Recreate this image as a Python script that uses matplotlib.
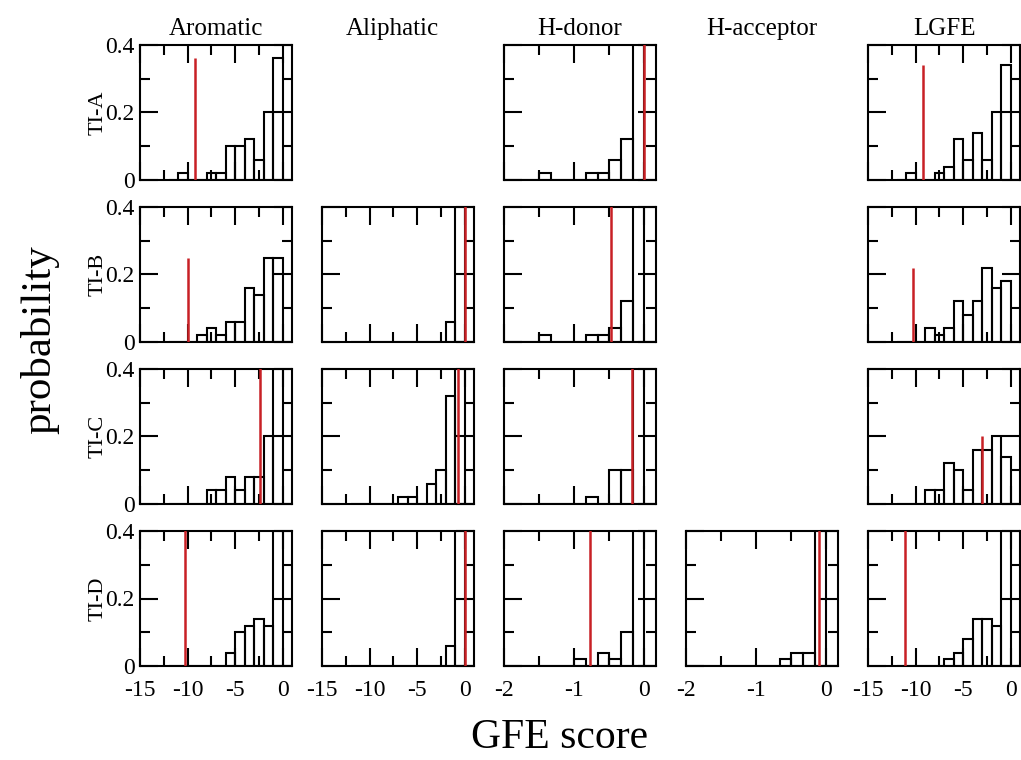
import numpy as np
import matplotlib
matplotlib.use("Agg")
import matplotlib.pyplot as plt
from matplotlib.ticker import FixedLocator

plt.rcParams['font.family'] = ['Liberation Serif', 'DejaVu Serif']
plt.rcParams['axes.unicode_minus'] = False

# ---------------- data ----------------
columns = ["Aromatic", "Aliphatic", "H-donor", "H-acceptor", "LGFE"]
rows = ["TI-A", "TI-B", "TI-C", "TI-D"]

# bin edges (13 bins)
score_edges = [-12, -11, -10, -9, -8, -7, -6, -5, -4, -3, -2, -1, 0, 1]
hbond_edges = [-2.0, -1.8333, -1.6667, -1.5, -1.3333, -1.1667, -1.0,
               -0.8333, -0.6667, -0.5, -0.3333, -0.1667, 0.0, 0.1667]

# probabilities per bin
arom_A = [0, 0.02, 0, 0, 0.02, 0.02, 0.10, 0.10, 0.12, 0.06, 0.20, 0.36, 0]
arom_B = [0, 0, 0, 0.02, 0.04, 0.02, 0.06, 0.06, 0.16, 0.14, 0.25, 0.25, 0]
arom_C = [0, 0, 0, 0, 0.04, 0.04, 0.08, 0.04, 0.08, 0.08, 0.20, 0.44, 0]
arom_D = [0, 0, 0, 0, 0, 0, 0.04, 0.10, 0.12, 0.14, 0.12, 0.48, 0]

aliph_B = [0, 0, 0, 0, 0, 0, 0, 0, 0, 0, 0.06, 0.94, 0]
aliph_C = [0, 0, 0, 0, 0, 0.02, 0.02, 0, 0.06, 0.10, 0.32, 0.48, 0]
aliph_D = [0, 0, 0, 0, 0, 0, 0, 0, 0, 0, 0.06, 0.94, 0]

hdon_A = [0, 0, 0, 0.02, 0, 0, 0, 0.02, 0.02, 0.06, 0.12, 0.76, 0]
hdon_B = [0, 0, 0, 0.02, 0, 0, 0, 0.02, 0.02, 0.04, 0.12, 0.78, 0]
hdon_C = [0, 0, 0, 0, 0, 0, 0, 0.02, 0, 0.10, 0.10, 0.78, 0]
hdon_D = [0, 0, 0, 0, 0, 0, 0.02, 0, 0.04, 0.02, 0.10, 0.82, 0]

hacc_D = [0, 0, 0, 0, 0, 0, 0, 0, 0.02, 0.04, 0.04, 0.90, 0]

lgfe_A = [0, 0.02, 0, 0, 0.02, 0.04, 0.12, 0.06, 0.14, 0.06, 0.20, 0.34, 0]
lgfe_B = [0, 0, 0, 0.04, 0.02, 0.04, 0.12, 0.08, 0.12, 0.22, 0.16, 0.18, 0]
lgfe_C = [0, 0, 0, 0.04, 0.04, 0.12, 0.10, 0.04, 0.16, 0.16, 0.20, 0.14, 0]
lgfe_D = [0, 0, 0, 0, 0, 0.02, 0.04, 0.08, 0.14, 0.14, 0.12, 0.46, 0]

# reference (red line) scores
arom_ref = [-9.2, -10.0, -2.4, -10.3]
aliph_ref = [None, 0.05, -0.7, 0.05]
hdon_ref = [0.0, -0.48, -0.17, -0.78]
hacc_ref = [None, None, None, -0.1]
lgfe_ref = [-9.2, -10.25, -3.05, -11.15]

x_ticks_score = [-15, -10, -5, 0]
x_minor_score = [-12.5, -7.5, -2.5]
x_ticks_hbond = [-2, -1, 0]
x_minor_hbond = [-1.5, -0.5]
y_ticks = [0, 0.2, 0.4]
y_ticklabels = ["0", "0.2", "0.4"]

hists = {
    0: [arom_A, arom_B, arom_C, arom_D],
    1: [None, aliph_B, aliph_C, aliph_D],
    2: [hdon_A, hdon_B, hdon_C, hdon_D],
    3: [None, None, None, hacc_D],
    4: [lgfe_A, lgfe_B, lgfe_C, lgfe_D],
}
refs = {0: arom_ref, 1: aliph_ref, 2: hdon_ref, 3: hacc_ref, 4: lgfe_ref}
is_hbond = {0: False, 1: False, 2: True, 3: True, 4: False}

# ---------------- layout ----------------
W, H = 1021, 760
fig = plt.figure(figsize=(W / 100, H / 100), dpi=100)
col_left = [140, 322, 504, 686, 868]
row_top = [45, 207, 369, 531]
pw, ph = 152, 135
RED = "#c82025"
LW = 1.5
FS = 17

for c in range(5):
    for r in range(4):
        vals = hists[c][r]
        if vals is None:
            continue
        ax = fig.add_axes([col_left[c] / W, 1 - (row_top[r] + ph) / H, pw / W, ph / H])
        edges = np.array(hbond_edges if is_hbond[c] else score_edges, dtype=float)
        ax.bar(edges[:-1], vals, width=np.diff(edges), align='edge', fill=False,
               edgecolor='black', linewidth=LW, zorder=2)
        ref = refs[c][r]
        if ref is not None:
            ax.vlines(ref, 0, max(vals), color=RED, linewidth=1.8, zorder=3)
        if is_hbond[c]:
            ax.set_xlim(-2, 1 / 6)
            ax.xaxis.set_major_locator(FixedLocator(x_ticks_hbond))
            ax.xaxis.set_minor_locator(FixedLocator(x_minor_hbond))
            xlabels = [str(v) for v in x_ticks_hbond]
        else:
            ax.set_xlim(-15, 1)
            ax.xaxis.set_major_locator(FixedLocator(x_ticks_score))
            ax.xaxis.set_minor_locator(FixedLocator(x_minor_score))
            xlabels = [str(v) for v in x_ticks_score]
        ax.set_ylim(0, 0.4)
        ax.yaxis.set_major_locator(FixedLocator(y_ticks))
        ax.yaxis.set_minor_locator(FixedLocator([0.1, 0.3]))
        ax.tick_params(which='both', direction='in', top=True, right=True,
                       width=LW, labelsize=FS)
        ax.tick_params(which='major', length=13)
        ax.tick_params(which='minor', length=7)
        ax.tick_params(axis='x', pad=10)
        ax.tick_params(axis='y', pad=4)
        for sp in ax.spines.values():
            sp.set_linewidth(LW)
        if c == 0:
            ax.set_yticklabels(y_ticklabels)
        else:
            ax.tick_params(labelleft=False)
        if r == 3:
            ax.set_xticklabels(xlabels)
        else:
            ax.tick_params(labelbottom=False)

# column titles
title_x = [216, 392, 580, 762, 944]
for c, name in enumerate(columns):
    fig.text(title_x[c] / W, 1 - 35 / H, name, ha='center', va='baseline', fontsize=18)

# row labels
for r, name in enumerate(rows):
    fig.text(98 / W, 1 - (row_top[r] + ph / 2) / H, name, rotation=90,
             ha='center', va='center', fontsize=16)

fig.text(40 / W, 1 - 340 / H, "probability", rotation=90, ha='center', va='center', fontsize=31)
fig.text(560 / W, 1 - 738 / H, "GFE score", ha='center', va='center', fontsize=30)

fig.savefig("out.png", dpi=100)
